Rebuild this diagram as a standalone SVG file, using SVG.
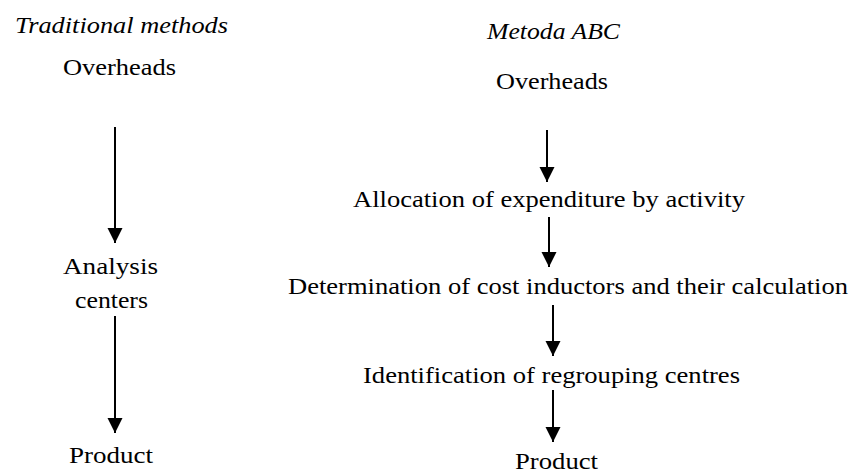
<svg xmlns="http://www.w3.org/2000/svg" width="851" height="475" viewBox="0 0 851 475">
<style>
.t{font-family:'Liberation Serif','DejaVu Serif','Times New Roman',serif;font-size:24px;fill:#000}
.h{font-style:italic}
.c line{stroke:#000;stroke-width:2}
</style>
<defs>
<marker id="ah" markerUnits="userSpaceOnUse" markerWidth="16" markerHeight="16" refX="15" refY="8" orient="auto">
<path d="M0,0.5 L15,8 L0,15.5 Z" fill="#000"/>
</marker>
</defs>
<rect width="851" height="475" fill="#fff"/>
<g id="title-traditional"><text class="t h" x="15" y="33" textLength="213" lengthAdjust="spacingAndGlyphs">Traditional methods</text></g>
<g id="title-abc"><text class="t h" x="487" y="39" textLength="133" lengthAdjust="spacingAndGlyphs">Metoda ABC</text></g>
<g id="t-overheads"><text class="t" x="63" y="75" textLength="113" lengthAdjust="spacingAndGlyphs">Overheads</text></g>
<g id="t-analysis"><text class="t" x="63" y="274" textLength="95" lengthAdjust="spacingAndGlyphs">Analysis</text><text class="t" x="75" y="308" textLength="73" lengthAdjust="spacingAndGlyphs">centers</text></g>
<g id="t-product"><text class="t" x="69" y="463" textLength="84" lengthAdjust="spacingAndGlyphs">Product</text></g>
<g id="a-overheads"><text class="t" x="496" y="89" textLength="112" lengthAdjust="spacingAndGlyphs">Overheads</text></g>
<g id="a-allocation"><text class="t" x="353" y="207" textLength="392" lengthAdjust="spacingAndGlyphs">Allocation of expenditure by activity</text></g>
<g id="a-determination"><text class="t" x="288" y="294" textLength="560" lengthAdjust="spacingAndGlyphs">Determination of cost inductors and their calculation</text></g>
<g id="a-identification"><text class="t" x="363" y="383" textLength="377" lengthAdjust="spacingAndGlyphs">Identification of regrouping centres</text></g>
<g id="a-product"><text class="t" x="515" y="469" textLength="83" lengthAdjust="spacingAndGlyphs">Product</text></g>
<g id="connectors" class="c">
<line x1="115" y1="127" x2="115" y2="243" marker-end="url(#ah)"/>
<line x1="115" y1="316" x2="115" y2="433" marker-end="url(#ah)"/>
<line x1="547" y1="130" x2="547" y2="182" marker-end="url(#ah)"/>
<line x1="549" y1="217" x2="549" y2="267" marker-end="url(#ah)"/>
<line x1="553" y1="305" x2="553" y2="356" marker-end="url(#ah)"/>
<line x1="553" y1="390" x2="553" y2="442" marker-end="url(#ah)"/>
</g>
</svg>
